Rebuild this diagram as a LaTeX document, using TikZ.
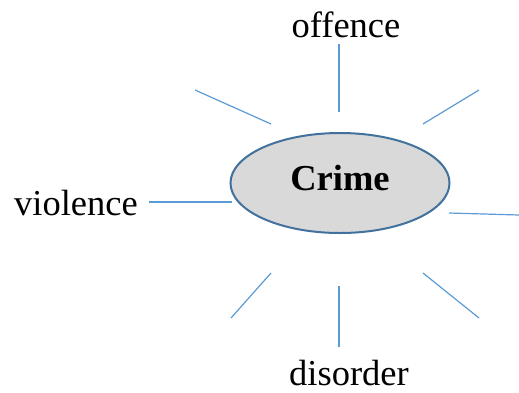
\documentclass[tikz,border=0pt]{standalone}
\usepackage{fontspec}
\setmainfont{Liberation Serif}
\usetikzlibrary{shapes.geometric}
\usetikzlibrary{positioning}

\definecolor{spokeblue}{HTML}{5B9BD5}
\definecolor{rimblue}{HTML}{41719C}
\definecolor{hubgray}{HTML}{D9D9D9}

\begin{document}
\begin{tikzpicture}[x=1pt, y=-1pt]
    \tikzset{
      hub/.style={ellipse, draw=rimblue, line width=2pt, fill=hubgray,
        minimum width=219pt, minimum height=100pt, inner sep=0pt},
      word/.style={anchor=base, inner sep=0pt,
        font=\fontsize{36.5}{44}\selectfont},
      spoke/.style={draw=spokeblue, line width=1.2pt},
    }
    \useasboundingbox (0,0) rectangle (519,392);

    \node[hub] (crime) at (340,183) {};
    \node[word, font=\fontsize{36.5}{44}\selectfont\bfseries] (crimetext) at (340,190) {Crime};
    \node[word] (offence) at (346,37) {offence};
    \node[word] (violence) at (76,215) {violence};
    \node[word] (disorder) at (349,385) {disorder};

    % spoke ends
    \coordinate (n1) at (339,44);   \coordinate (n2) at (339,112);
    \coordinate (nw1) at (195,90);  \coordinate (nw2) at (271,124);
    \coordinate (ne1) at (479,90);  \coordinate (ne2) at (423,124);
    \coordinate (w1) at (149,202);  \coordinate (w2) at (232,202);
    \coordinate (e1) at (449,213);  \coordinate (e2) at (519,215);
    \coordinate (sw1) at (271,273); \coordinate (sw2) at (231,318);
    \coordinate (s1) at (339,286);  \coordinate (s2) at (339,347);
    \coordinate (se1) at (423,273); \coordinate (se2) at (479,318);

    \draw[spoke] (n1) -- (n2);
    \draw[spoke] (nw1) -- (nw2);
    \draw[spoke] (ne1) -- (ne2);
    \draw[spoke] (w1) -- (w2);
    \draw[spoke] (e1) -- (e2);
    \draw[spoke] (sw1) -- (sw2);
    \draw[spoke] (s1) -- (s2);
    \draw[spoke] (se1) -- (se2);
\end{tikzpicture}
\end{document}
